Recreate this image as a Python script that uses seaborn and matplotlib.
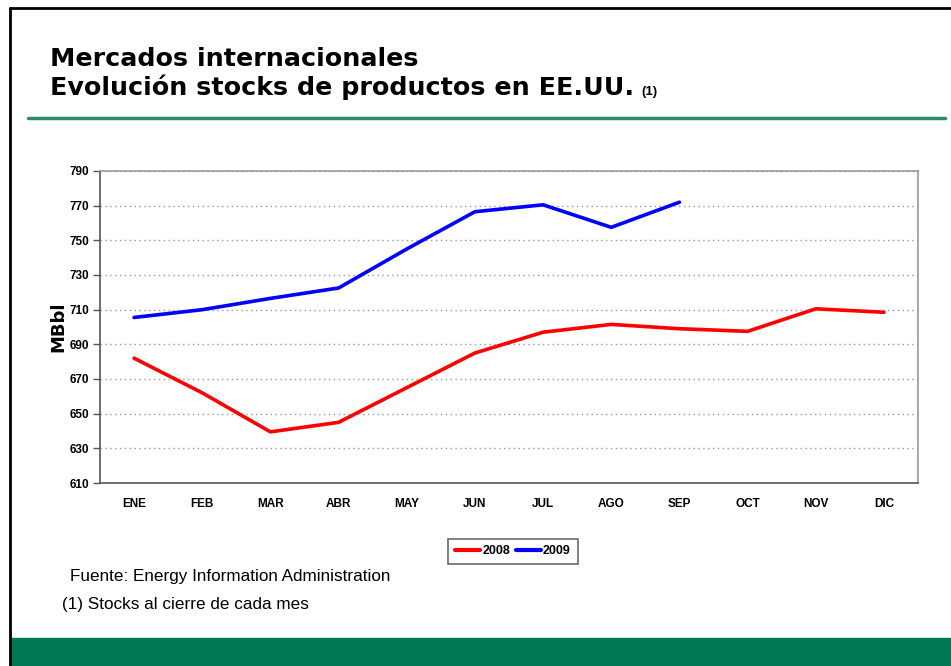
import matplotlib
matplotlib.use("Agg")
import matplotlib.pyplot as plt
import seaborn as sns
import pandas as pd
import numpy as np
from matplotlib.patches import Rectangle
from matplotlib.lines import Line2D

months = ["ENE", "FEB", "MAR", "ABR", "MAY", "JUN", "JUL", "AGO", "SEP", "OCT", "NOV", "DIC"]
stocks_2008 = [682, 662, 639.5, 645, 665, 685, 697, 701.5, 699, 697.5, 710.5, 708.5]
stocks_2009 = [705.5, 710, 716.5, 722.5, 745, 766.5, 770.5, 757.5, 772]
series_names = ["2008", "2009"]
series_colors = ["#FF0000", "#0000FF"]
yticks = list(range(610, 791, 20))

rows = []
for name, vals in zip(series_names, [stocks_2008, stocks_2009]):
    for i, v in enumerate(vals):
        rows.append({"idx": i, "Mes": months[i], "valor": v, "serie": name})
df = pd.DataFrame(rows)

sns.set_theme(style="white")
plt.rcParams['font.family'] = ['Liberation Sans', 'DejaVu Sans']
plt.rcParams['text.color'] = 'black'
plt.rcParams['axes.labelcolor'] = 'black'
plt.rcParams['xtick.color'] = 'black'
plt.rcParams['ytick.color'] = 'black'

fig = plt.figure(figsize=(9.51, 6.66), dpi=100)
W, H = 951, 666

def fx(px):
    return px / W

def fy(py):
    return 1 - py / H

# slide frame
fig.add_artist(Line2D([fx(10), fx(10)], [fy(8), 0], color="black", lw=2, transform=fig.transFigure))
fig.add_artist(Line2D([fx(10), 1], [fy(8), fy(8)], color="black", lw=2, transform=fig.transFigure))
# bottom green band
fig.add_artist(Rectangle((fx(10), 0), 1 - fx(10), fy(638), color="#007856", transform=fig.transFigure, zorder=0))
# title rule
fig.add_artist(Line2D([fx(28), fx(945)], [fy(118), fy(118)], color="#2E8B6A", lw=2.5, transform=fig.transFigure))

title_font = ['DejaVu Sans']
fig.text(fx(50), fy(66.5), "Mercados internacionales", fontsize=18.3, fontweight="bold",
         va="baseline", ha="left", family=title_font)
fig.text(fx(50), fy(95), "Evolución stocks de productos en EE.UU.", fontsize=18.3, fontweight="bold",
         va="baseline", ha="left", family=title_font)
fig.text(fx(641), fy(95), "(1)", fontsize=9.5, fontweight="bold", va="baseline", ha="left")

ax = fig.add_axes([fx(100), fy(483), fx(918) - fx(100), fy(171) - fy(483)])
sns.lineplot(data=df, x="idx", y="valor", hue="serie", palette=series_colors, hue_order=series_names,
             linewidth=2.6, ax=ax, legend=False, sort=False)

ax.set_xlim(-0.5, 11.5)
ax.set_ylim(610, 790)
ax.set_yticks(yticks)
ax.set_yticklabels([str(t) for t in yticks], fontsize=8.5, fontweight="bold")
ax.set_xticks(range(12))
ax.set_xticklabels(months, fontsize=8.5, fontweight="bold")
ax.set_xticks(np.arange(-0.5, 12, 1), minor=True)
ax.tick_params(axis="x", which="major", length=0, pad=10.5)
ax.tick_params(axis="x", which="minor", length=5, width=1, color="#555555", direction="out")
ax.tick_params(axis="y", which="major", length=5, width=1, color="#555555", direction="out", pad=3, left=True)
ax.set_xlabel("")
ax.set_ylabel("MBbl", fontsize=13, fontweight="bold", labelpad=1, family=['DejaVu Sans'])
ax.grid(axis="y", which="major", linestyle=(0, (1, 2.5)), color="#999999", linewidth=1)
ax.grid(axis="x", visible=False)
for s in ["left", "bottom"]:
    ax.spines[s].set_color("#555555")
    ax.spines[s].set_linewidth(1.2)
for s in ["top", "right"]:
    ax.spines[s].set_color("#999999")
    ax.spines[s].set_linewidth(1.2)

handles = [Line2D([0], [0], color=c, lw=3) for c in series_colors]
leg = fig.legend(handles, series_names, loc="center", bbox_to_anchor=(fx(513), fy(551.5)), ncol=2,
                 frameon=True, fancybox=False, edgecolor="#444444",
                 prop={"weight": "bold", "size": 9}, handlelength=2.0, handletextpad=0.2,
                 columnspacing=0.4, borderpad=0.55)
leg.get_frame().set_linewidth(1.2)

fig.text(fx(70), fy(581), "Fuente: Energy Information Administration", fontsize=12.3, va="baseline", ha="left")
fig.text(fx(62), fy(609), "(1) Stocks al cierre de cada mes", fontsize=12.3, va="baseline", ha="left")

fig.savefig("out.png", dpi=100)
